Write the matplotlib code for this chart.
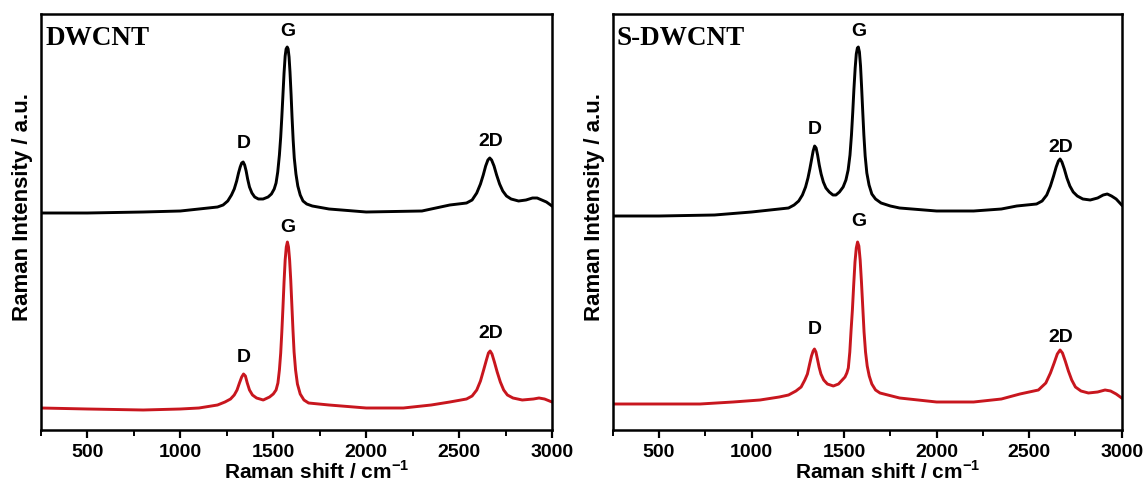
import matplotlib
matplotlib.use("Agg")
import matplotlib.pyplot as plt
from matplotlib.ticker import MultipleLocator

# ---------------- data (intensity in arbitrary units) ----------------
dw_black_x = [250, 500, 800, 1000, 1100, 1200, 1230, 1255, 1275, 1290, 1303, 1313, 1322, 1330, 1338,
              1346, 1354, 1362, 1372, 1385, 1400, 1420, 1445, 1472, 1490, 1505, 1515, 1524, 1533, 1540,
              1546, 1552, 1558, 1564, 1569, 1575, 1580, 1585, 1590, 1596, 1601, 1607, 1613, 1622, 1632,
              1645, 1660, 1680, 1710, 1800, 2000, 2300, 2400, 2450, 2540, 2570, 2595, 2615, 2630, 2643,
              2655, 2665, 2675, 2688, 2702, 2718, 2735, 2755, 2780, 2820, 2860, 2895, 2920, 2945, 2970,
              3000]
dw_black_y = [217, 217, 218, 219, 221, 223, 225, 229, 235, 241, 249, 257, 263, 267, 268,
              265, 259, 251, 243, 237, 233, 231, 231, 233, 236, 241, 247, 258, 275, 293,
              313, 335, 357, 374, 381, 383, 381, 373, 358, 335, 313, 290, 272, 256, 244,
              235, 229, 226, 224, 221, 218, 219, 223, 225, 227, 230, 237, 246, 255, 264,
              270, 272, 270, 264, 255, 246, 239, 234, 231, 229, 230, 232, 232, 230, 228,
              224]

dw_red_x = [250, 500, 800, 1000, 1100, 1200, 1240, 1270, 1290, 1305, 1318, 1330, 1340, 1350, 1360,
            1372, 1388, 1410, 1446, 1480, 1500, 1515, 1525, 1533, 1540, 1546, 1552, 1558, 1564, 1570,
            1576, 1582, 1588, 1594, 1600, 1606, 1612, 1620, 1630, 1645, 1665, 1690, 1800, 2000, 2200,
            2350, 2450, 2540, 2570, 2595, 2615, 2632, 2647, 2658, 2667, 2677, 2690, 2705, 2722, 2740,
            2760, 2790, 2840, 2900, 2930, 2960, 3000]
dw_red_y = [22, 21, 20, 21, 22, 25, 28, 31, 35, 40, 47, 53, 56, 54, 47,
            40, 35, 32, 30, 33, 36, 40, 47, 60, 77, 98, 122, 148, 170, 183,
            188, 183, 170, 150, 125, 100, 78, 60, 46, 36, 30, 27, 25, 22, 22,
            25, 28, 31, 34, 40, 49, 60, 70, 77, 79, 76, 68, 58, 48, 40,
            35, 32, 30, 31, 32, 31, 28]

sdw_black_x = [250, 500, 800, 1000, 1100, 1200, 1230, 1255, 1275, 1292, 1305, 1315, 1325, 1333, 1341,
               1349, 1357, 1366, 1376, 1388, 1402, 1420, 1440, 1456, 1475, 1495, 1510, 1522, 1532, 1540,
               1547, 1553, 1560, 1566, 1572, 1577, 1583, 1589, 1595, 1601, 1607, 1614, 1623, 1635, 1650,
               1670, 1700, 1750, 1800, 2000, 2200, 2350, 2433, 2540, 2570, 2595, 2615, 2632, 2646, 2658,
               2667, 2677, 2690, 2704, 2720, 2738, 2760, 2790, 2830, 2870, 2900, 2922, 2945, 2970, 3000]
sdw_black_y = [214, 214, 215, 218, 220, 222, 225, 229, 235, 243, 252, 261, 271, 279, 284,
               282, 275, 265, 256, 248, 242, 238, 235, 235, 238, 243, 250, 260, 275, 295,
               318, 340, 362, 376, 382, 383, 378, 364, 342, 318, 295, 274, 257, 245, 236,
               231, 227, 224, 222, 219, 219, 221, 224, 226, 229, 235, 244, 254, 263, 269,
               271, 268, 261, 252, 244, 238, 234, 231, 230, 232, 235, 236, 234, 231, 225]

sdw_red_x = [250, 500, 722, 900, 1046, 1150, 1200, 1240, 1268, 1288, 1302, 1314, 1324, 1333, 1340,
             1348, 1356, 1365, 1375, 1390, 1410, 1442, 1470, 1490, 1505, 1515, 1523, 1531, 1538, 1545,
             1552, 1559, 1566, 1573, 1580, 1587, 1594, 1601, 1608, 1616, 1625, 1636, 1650, 1670, 1694,
             1800, 2000, 2200, 2350, 2450, 2550, 2590, 2615, 2635, 2652, 2667, 2680, 2695, 2712, 2730,
             2750, 2780, 2820, 2870, 2910, 2940, 2970, 3000]
sdw_red_y = [26, 26, 26, 28, 30, 33, 35, 39, 43, 50, 56, 66, 74, 79, 81,
             78, 71, 63, 56, 50, 46, 44, 46, 50, 53, 57, 62, 78, 100, 120,
             145, 168, 182, 188, 184, 170, 148, 123, 98, 78, 64, 54, 46, 40, 37,
             32, 28, 28, 31, 36, 40, 47, 57, 67, 76, 80, 77, 69, 59, 50,
             43, 39, 37, 38, 40, 39, 36, 32]

panel_titles = ["DWCNT", "S-DWCNT"]
peak_names = ["D", "G", "2D"]
# label centre positions for each panel: black then red
dw_label_x = [1340, 1580, 2670]
dw_black_label_y = [287, 398, 289]
dw_red_label_y = [72, 202, 97]
sdw_label_x = [1340, 1577, 2670]
sdw_black_label_y = [300, 398, 283]
sdw_red_label_y = [100, 208, 93]

xticks = [500, 1000, 1500, 2000, 2500, 3000]

# ---------------- drawing ----------------
plt.rcParams['font.family'] = ['Liberation Sans', 'DejaVu Sans']
plt.rcParams['mathtext.fontset'] = 'custom'
plt.rcParams['mathtext.rm'] = 'Liberation Sans:bold'
plt.rcParams['mathtext.bf'] = 'Liberation Sans:bold'
RED = '#c8161e'

fig = plt.figure(figsize=(11.47, 4.90), dpi=100)
ax1 = fig.add_axes([41 / 1147, 1 - 430 / 490, 511 / 1147, 416 / 490])
ax2 = fig.add_axes([612.7 / 1147, 1 - 430 / 490, 509 / 1147, 416 / 490])

panels = [
    (ax1, dw_black_x, dw_black_y, dw_red_x, dw_red_y, dw_label_x, dw_black_label_y, dw_red_label_y, panel_titles[0]),
    (ax2, sdw_black_x, sdw_black_y, sdw_red_x, sdw_red_y, sdw_label_x, sdw_black_label_y, sdw_red_label_y, panel_titles[1]),
]

for ax, bx, by, rx, ry, lx, lby, lry, title in panels:
    ax.plot(bx, by, color='black', lw=2.1, solid_joinstyle='round')
    ax.plot(rx, ry, color=RED, lw=2.1, solid_joinstyle='round')
    ax.set_xlim(250, 3000)
    ax.set_ylim(0, 416)
    ax.set_yticks([])
    ax.set_xticks(xticks)
    ax.xaxis.set_minor_locator(MultipleLocator(250))
    ax.tick_params(axis='x', which='major', direction='out', length=6, width=1.6,
                   labelsize=14, pad=4)
    ax.tick_params(axis='x', which='minor', direction='out', length=4, width=1.4)
    for lbl in ax.get_xticklabels():
        lbl.set_fontweight('bold')
    for s in ax.spines.values():
        s.set_linewidth(1.8)
    ax.set_xlabel('Raman shift / cm$^{-1}$', fontsize=15, fontweight='bold')
    ax.xaxis.set_label_coords(0.54, -0.072)
    ax.set_ylabel('Raman Intensity / a.u.', fontsize=16, fontweight='bold')
    ax.yaxis.set_label_coords(-0.016, 0.535)
    ax.text(0.008, 0.94, title, transform=ax.transAxes, fontsize=19.5, fontweight='bold',
            family=['Liberation Serif', 'DejaVu Serif'], ha='left', va='center')
    for name, x, y in zip(peak_names, lx, lby):
        ax.text(x, y, name, fontsize=14, fontweight='bold', ha='center', va='center')
    for name, x, y in zip(peak_names, lx, lry):
        ax.text(x, y, name, fontsize=14, fontweight='bold', ha='center', va='center')

fig.savefig('out.png', dpi=100)
